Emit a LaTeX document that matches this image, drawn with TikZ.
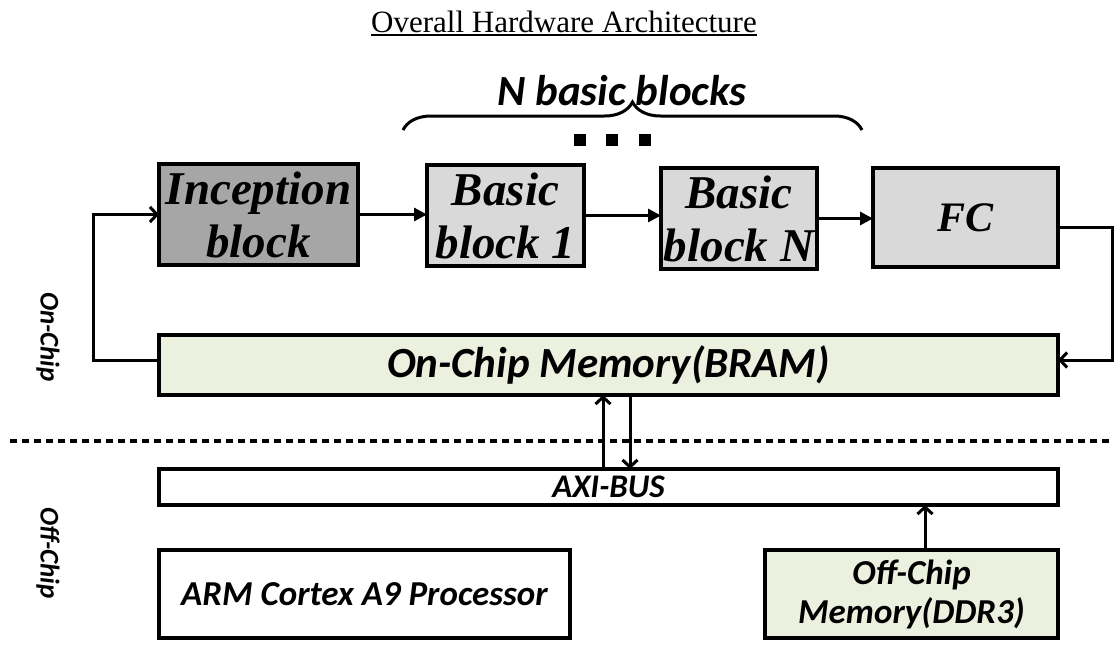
\documentclass[tikz,border=0pt]{standalone}
\usepackage{fontspec}
\setmainfont{Liberation Serif}
\newfontfamily\calfont{Carlito}
\usetikzlibrary{arrows.meta,decorations.pathreplacing}

\definecolor{incgray}{HTML}{A6A6A6}
\definecolor{blkgray}{HTML}{D9D9D9}
\definecolor{memgreen}{HTML}{EBF1DE}

\begin{document}
\begin{tikzpicture}[x=1pt,y=-1pt,
  box/.style={draw, line width=4pt, inner sep=0pt, outer sep=0pt, align=center},
  serifbox/.style={box, font=\fontsize{47}{53}\selectfont\bfseries\itshape},
  calbox/.style={box, font=\calfont\fontsize{35}{39}\selectfont\bfseries\itshape},
  flow/.style={line width=3pt, -{Triangle[length=13pt,width=13pt]}},
  link/.style={line width=3pt, -{Straight Barb[length=7pt,width=15pt]}},
  sidelabel/.style={rotate=-90, font=\calfont\fontsize{27}{27}\selectfont\bfseries\itshape}
]
\useasboundingbox (0,0) rectangle (1114,646);

% title
\node[inner sep=0pt, anchor=base, font=\fontsize{31}{31}\selectfont] (title) at (564,32) {Overall Hardware Architecture};
\draw[line width=2pt] ([yshift=-3pt]title.base west) -- ([yshift=-3pt]title.base east);

% processing pipeline
\node[serifbox, fill=incgray, minimum width=199pt, minimum height=101pt] (inc) at (258.5,214.5) {Inception\\block};
\node[serifbox, fill=blkgray, minimum width=157pt, minimum height=101pt] (b1) at (505.5,215.5) {Basic\\block 1};
\node[serifbox, fill=blkgray, minimum width=156pt, minimum height=101pt] (bN) at (739,218.5) {Basic\\block N};
\node[serifbox, fill=blkgray, minimum width=185pt, minimum height=99pt, font=\fontsize{42}{42}\selectfont\bfseries\itshape] (fc) at (965.5,217.5) {FC};

% brace over the basic blocks
\draw[line width=3pt, decorate, decoration={brace, amplitude=28pt}] (403,130) -- (862,130);
\node[inner sep=0pt, anchor=base, font=\calfont\fontsize{43}{43}\selectfont\bfseries\itshape] (nbb) at (622,105) {N basic blocks};
\foreach \dx in {580,612,645}
  \fill (\dx-6,134) rectangle (\dx+6,146);

% memories and bus
\node[calbox, fill=memgreen, minimum width=899pt, minimum height=60pt, font=\calfont\fontsize{43}{43}\selectfont\bfseries\itshape] (bram) at (608.5,365) {On-Chip Memory(BRAM)};
\node[calbox, fill=white, minimum width=899pt, minimum height=36pt, font=\calfont\fontsize{33}{33}\selectfont\bfseries\itshape] (axi) at (608.5,487) {AXI-BUS};
\node[calbox, fill=white, minimum width=411pt, minimum height=88pt] (arm) at (364.5,594) {ARM Cortex A9 Processor};
\node[calbox, fill=memgreen, minimum width=293pt, minimum height=88pt] (ddr) at (911.5,594) {Off-Chip\\Memory(DDR3)};

% on-chip / off-chip separation
\draw[line width=3.5pt, dash pattern=on 7pt off 5pt] (10,441) -- (1114,441);
\node[sidelabel] (onlab) at (48,337) {On-Chip};
\node[sidelabel] (offlab) at (48,553) {Off-Chip};

% data flow
\draw[flow] (inc.east) -- (inc.east -| b1.west);
\draw[flow] (b1.east) -- (b1.east -| bN.west);
\draw[flow] (bN.east) -- (bN.east -| fc.west);

\coordinate (lx) at (93,0);
\coordinate (rx) at (1112,0);
\draw[link] ([yshift=5pt]bram.west) -- ([yshift=5pt]bram.west -| lx) |- (inc.west);
\draw[link] ([yshift=-9.5pt]fc.east) -- ([yshift=-9.5pt]fc.east -| rx) |- ([yshift=5pt]bram.east);

\coordinate (upx) at (603,0);
\coordinate (dnx) at (630,0);
\draw[link] (axi.north -| upx) -- (bram.south -| upx);
\draw[link] (bram.south -| dnx) -- (axi.north -| dnx);
\draw[link] ([xshift=13.5pt]ddr.north) -- ([xshift=13.5pt]ddr.north |- axi.south);
\end{tikzpicture}
\end{document}
